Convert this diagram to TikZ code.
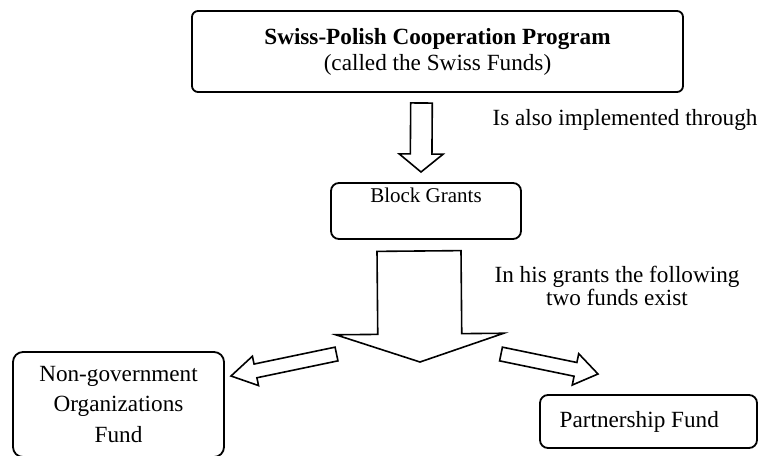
\documentclass[tikz,border=0pt]{standalone}
\usepackage{fontspec}
\setmainfont{Liberation Serif}
\usetikzlibrary{calc}

% hollow block arrow: tail, tip, shaft half width, head half width, head length
\newcommand{\hollowarrow}[5]{%
  \coordinate (hb) at ($(#2)!#5!(#1)$);
  \draw[arr] ($(#1)!#3!90:(#2)$) -- ($(hb)!#3!-90:(#1)$) -- ($(hb)!#4!-90:(#1)$)
    -- (#2) -- ($(hb)!#4!90:(#1)$) -- ($(hb)!#3!90:(#1)$) -- ($(#1)!#3!-90:(#2)$) -- cycle;
}

\begin{document}
\begin{tikzpicture}
  [x=0.5pt,y=-0.5pt,
   box/.style={draw,rounded corners=4pt,line width=0.9pt,align=center,inner sep=0pt},
   arr/.style={line width=0.8pt,line join=miter},
   lbl/.style={align=center,font=\fontsize{11.6}{13}\selectfont}]
  \useasboundingbox (0,0) rectangle (758,455);

  \node[box,rounded corners=3pt,minimum width=245.5pt,minimum height=40.5pt,
        font=\fontsize{11.6}{13}\selectfont] (swiss) at (437.5,51.5)
    {\textbf{Swiss-Polish Cooperation Program}\\(called the Swiss Funds)};
  \node[box,minimum width=95pt,minimum height=28pt,
        font=\fontsize{10.5}{12.5}\selectfont] (block) at (426,211) {Block Grants\\\strut};
  \node[box,rounded corners=5pt,minimum width=105.5pt,minimum height=52.5pt,
        font=\fontsize{11.6}{15.3}\selectfont] (ngo) at (118.5,404.5) {Non-government\\Organizations\\Fund};
  \node[box,minimum width=108.5pt,minimum height=26.5pt,
        font=\fontsize{11.6}{14}\selectfont] (partner) at (648.5,421.5) {\mbox{Partnership Fund\hspace{9.25pt}}};

  \node[lbl] (also) at (625,120) {Is also implemented through};
  \node[lbl,font=\fontsize{11.6}{11.5}\selectfont] (exist) at (617,286) {In his grants the following\\two funds exist};

  \coordinate (a1) at (421.5,103);  \coordinate (b1) at (421,172);
  \coordinate (a2) at (419,251);    \coordinate (b2) at (420,362);
  \coordinate (a3) at (336.5,354);  \coordinate (b3) at (231,376);
  \coordinate (a4) at (501,354);    \coordinate (b4) at (598,374);

  \foreach \from/\to/\w/\hw/\hl in {a1/b1/5.4pt/11pt/9pt, a2/b2/21pt/42pt/14pt,
      a3/b3/3.5pt/7.5pt/12.5pt, a4/b4/3.5pt/8pt/11.5pt}
    \hollowarrow{\from}{\to}{\w}{\hw}{\hl};
\end{tikzpicture}
\end{document}
